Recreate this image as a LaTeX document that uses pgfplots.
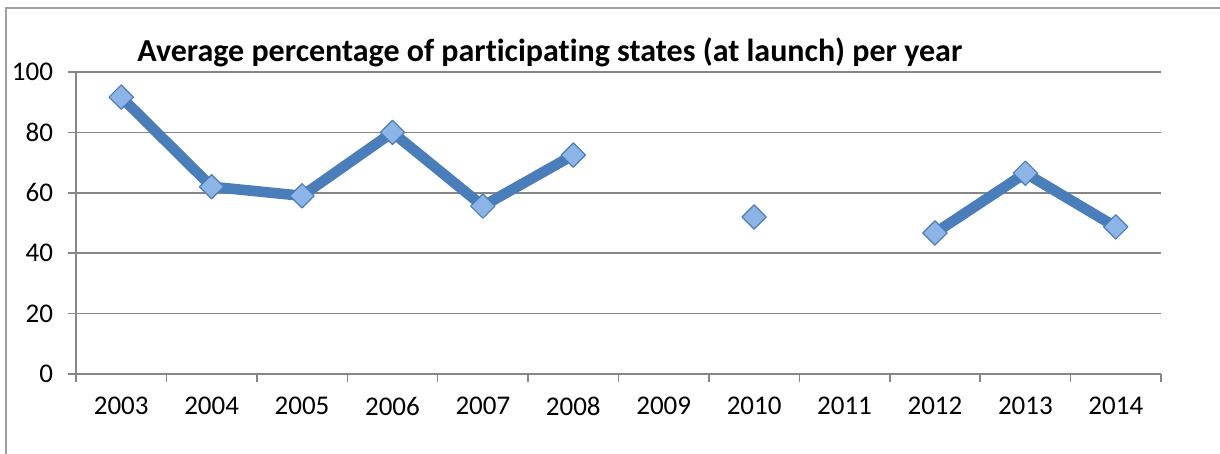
\documentclass[border=0pt]{standalone}
\usepackage{fontspec}
\setmainfont{Carlito}[Ligatures=NoCommon]
\usepackage{pgfplots}
\pgfplotsset{compat=1.18}
\definecolor{linecol}{HTML}{4A7EBB}
\definecolor{markfill}{HTML}{8DB4E6}
\definecolor{gridgray}{HTML}{868686}
\begin{document}
\begin{tikzpicture}
  % picture frame (only left and top edges visible)
  \useasboundingbox (-38pt,-40pt) rectangle (572pt,187pt);
  \draw[gridgray!80, line width=0.7pt] (-35pt,-40pt) -- (-35pt,183pt) -- (572pt,183pt);
  \begin{axis}[
    at={(0,0)}, anchor=south west,
    scale only axis,
    width=542.5pt, height=151pt,
    xmin=-0.5, xmax=11.5,
    ymin=0, ymax=100,
    ytick={0,20,40,60,80,100},
    xtick={0,...,11},
    xticklabels={2003,2004,2005,2006,2007,2008,2009,2010,2011,2012,2013,2014},
    minor xtick={-0.5,0.5,...,11.5},
    major x tick style={draw=none},
    minor tick length=4pt,
    major tick length=4pt,
    tick align=outside,
    xtick pos=bottom, ytick pos=left,
    axis x line*=bottom, axis y line*=left,
    axis line style={gridgray, line width=0.75pt, -},
    tick style={gridgray, line width=0.75pt},
    ymajorgrids,
    major grid style={gridgray, line width=0.75pt},
    ticklabel style={font=\fontsize{13.5}{16}\selectfont},
    /pgf/number format/assume math mode=true,
    yticklabel style={xshift=-4pt},
    xticklabel style={yshift=-4pt},
    unbounded coords=jump,
    clip=false,
  ]
  \addplot[linecol, line width=5.3pt, line join=round,
    mark=square*, mark size=4.3pt,
    mark options={rotate=45, fill=markfill, draw=linecol, line width=0.6pt}]
    coordinates {
      (0,91.7) (1,62) (2,59) (3,80) (4,55.6) (5,72.5)
      (6,nan) (7,52) (8,nan) (9,46.7) (10,66.5) (11,48.7)
    };
  \end{axis}
  \node[anchor=base west, inner sep=0pt, font=\fontsize{16}{19}\selectfont\bfseries]
    at (30.5pt,156pt) {Average percentage of participating states (at launch) per year};
\end{tikzpicture}
\end{document}
